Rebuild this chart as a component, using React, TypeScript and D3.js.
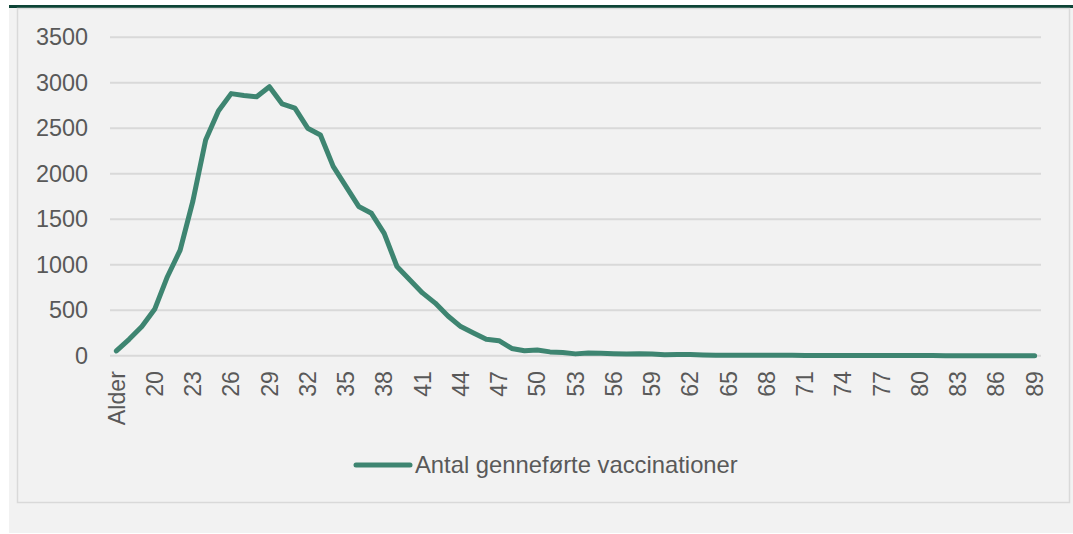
import React from "react";
import * as d3 from "d3";

const categories: string[] = ["Alder", ...d3.range(18, 90).map(String)];
const values: number[] = [
  52, 180, 320, 510, 868, 1160, 1700, 2370, 2690, 2880,
  2860, 2845, 2956, 2766, 2720, 2500, 2425, 2080, 1860, 1640,
  1565, 1345, 980, 835, 690, 578, 436, 320, 250, 180,
  165, 80, 55, 62, 42, 36, 20, 30, 27, 22,
  18, 22, 18, 10, 12, 12, 8, 6, 6, 4,
  6, 4, 4, 6, 3, 2, 2, 2, 1, 1,
  1, 1, 1, 1, 1, 0, 0, 0, 0, 0,
  0, 0, 0,
];
const yTicks: number[] = [0, 500, 1000, 1500, 2000, 2500, 3000, 3500];
const seriesName = "Antal genneførte vaccinationer";

const W = 1073;
const H = 534;
const FONT = "'Liberation Sans', Arial, sans-serif";
const TEXT = "#595959";
const GREEN = "#3e8571";
const GRID = "#d9d9d9";

export default function App() {
  const x = d3.scaleBand<string>().domain(categories).range([110, 1041]).padding(0);
  const cx = (c: string) => (x(c) ?? 0) + x.bandwidth() / 2;
  const y = d3.scaleLinear().domain([0, 3500]).range([355.7, 37.2]);
  const line = d3
    .line<number>()
    .x((_, i) => cx(categories[i]))
    .y((v) => y(v))
    .curve(d3.curveLinear);
  const shownLabels = categories.filter((_, i) => i % 3 === 0);

  return (
    <svg
      width={W}
      height={H}
      style={{ position: "absolute", left: 0, top: 0, background: "#ffffff" }}
    >
      <rect x={9} y={7} width={W - 9} height={526} fill="#f2f2f2" />
      <rect x={9} y={5} width={W - 9} height={3} fill="#0d4436" />
      <rect x={17.5} y={8.5} width={1052} height={494} fill="#f2f2f2" stroke={GRID} strokeWidth={1.5} />
      {yTicks.map((t) => (
        <g key={t}>
          <line x1={110} x2={1041} y1={y(t)} y2={y(t)} stroke={GRID} strokeWidth={2} />
          <text
            x={88}
            y={y(t)}
            dy="0.35em"
            textAnchor="end"
            fontFamily={FONT}
            fontSize={23.4}
            fill={TEXT}
          >
            {t}
          </text>
        </g>
      ))}
      {shownLabels.map((c) => (
        <text
          key={c}
          transform={`translate(${cx(c)},371) rotate(-90)`}
          dy="0.35em"
          textAnchor="end"
          fontFamily={FONT}
          fontSize={23.2}
          fill={TEXT}
        >
          {c}
        </text>
      ))}
      <path
        d={line(values) ?? ""}
        fill="none"
        stroke={GREEN}
        strokeWidth={5}
        strokeLinejoin="round"
        strokeLinecap="round"
      />
      <line x1={356} x2={410} y1={465} y2={465} stroke={GREEN} strokeWidth={5} strokeLinecap="round" />
      <text x={415} y={473} fontFamily={FONT} fontSize={23.8} fill={TEXT}>
        {seriesName}
      </text>
    </svg>
  );
}
